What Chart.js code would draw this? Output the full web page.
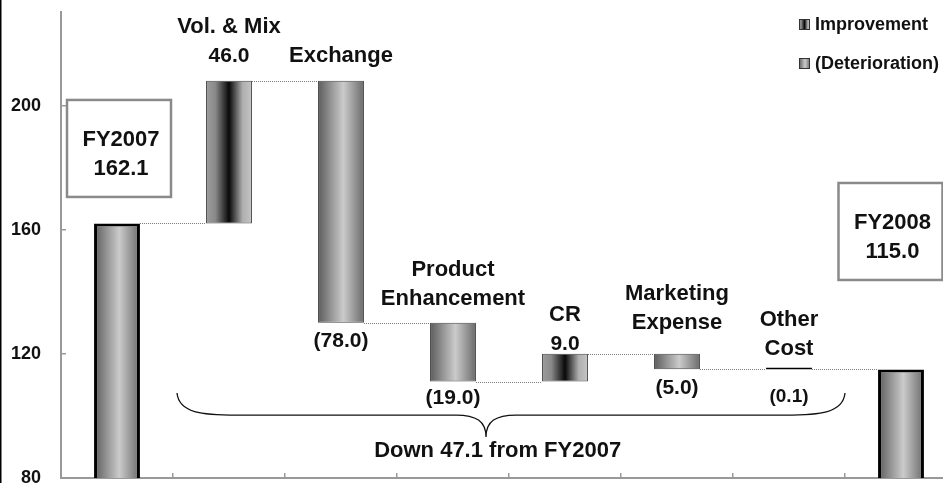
<!DOCTYPE html>
<html>
<head>
<meta charset="utf-8">
<script src="https://cdn.jsdelivr.net/npm/chart.js@4"></script>
<style>
  html, body { margin: 0; padding: 0; background: #fff; overflow: hidden; }
  #wrap { position: absolute; left: 0; top: 0; width: 960px; height: 500px; }
</style>
</head>
<body>
<div id="wrap"><canvas id="bridge"></canvas></div>
<script>
const categories = [
	["FY2007"],
	["Vol. & Mix"],
	["Exchange"],
	["Product", "Enhancement"],
	["CR"],
	["Marketing", "Expense"],
	["Other", "Cost"],
	["FY2008"]
];
const startValue = 162.1;
const changes = [46.0, -78.0, -19.0, 9.0, -5.0, -0.1];
const endValue = 115.0;
const yTicks = [80, 120, 160, 200];
const braceNote = "Down 47.1 from FY2007";
const legendItems = ["Improvement", "(Deterioration)"];

// running level after each bar, then floating ranges for the change bars
const levels = [startValue];
changes.forEach(c => levels.push(+(levels[levels.length - 1] + c).toFixed(1)));
const deltas = [startValue].concat(changes, [endValue]);
const bars = [startValue]
	.concat(changes.map((c, i) => [levels[i], levels[i + 1]]))
	.concat([endValue]);

const FONT = '"Liberation Sans", Arial, sans-serif';
const BAR = 0.41;
const last = deltas.length - 1;

const kindOf = i => (i === 0 || i === last ? "total" : deltas[i] > 0 ? "up" : "down");

function gradient(c, x0, x1, kind) {
	const g = c.createLinearGradient(x0, 0, x1, 0);
	if (kind === "up") {
		g.addColorStop(0, "#9c9c9c");
		g.addColorStop(0.2, "#8a8a8a");
		g.addColorStop(0.5, "#080808");
		g.addColorStop(0.8, "#b0b0b0");
		g.addColorStop(1, "#c4c4c4");
	} else {
		g.addColorStop(0, "#5c5c5c");
		g.addColorStop(0.55, "#cbcbcb");
		g.addColorStop(1, "#6a6a6a");
	}
	return g;
}

function barFill(ctx) {
	const chart = ctx.chart;
	const x = chart.scales.x;
	if (ctx.type !== "data" || !chart.chartArea || !x) return "#aaa";
	const i = ctx.dataIndex;
	if (Math.abs(deltas[i]) < 1) return "#000";
	const cx = x.getPixelForValue(i);
	const hw = (x.width / categories.length) * BAR / 2;
	return gradient(chart.ctx, cx - hw, cx + hw, kindOf(i));
}

const annotate = {
	id: "annotate",
	afterDatasetsDraw(chart, args, opts) {
		const { ctx, scales: { y } } = chart;
		const els = chart.getDatasetMeta(0).data;
		ctx.save();

		// dotted connectors
		ctx.strokeStyle = "#7a7a7a";
		ctx.lineWidth = 1;
		ctx.setLineDash([1, 1]);
		for (let k = 0; k < levels.length; k++) {
			const a = els[k], b = els[k + 1];
			const yy = Math.round(y.getPixelForValue(levels[k])) + 0.5;
			ctx.beginPath();
			ctx.moveTo(a.x + a.width / 2, yy);
			ctx.lineTo(b.x - b.width / 2, yy);
			ctx.stroke();
		}
		ctx.setLineDash([]);

		ctx.fillStyle = "#111";
		ctx.textAlign = "center";
		ctx.textBaseline = "alphabetic";

		// category + value labels for the change bars
		for (let i = 1; i < last; i++) {
			const el = els[i];
			const top = Math.min(el.y, el.base);
			const bottom = Math.max(el.y, el.base);
			const d = deltas[i];
			const val = d > 0 ? d.toFixed(1) : "(" + Math.abs(d).toFixed(1) + ")";
			const above = categories[i].map(t => [t, opts.catFont]);
			if (d > 0) above.push([val, opts.valFont]);
			let base = top - opts.topGap[i];
			for (let j = above.length - 1; j >= 0; j--) {
				ctx.font = above[j][1];
				ctx.fillText(above[j][0], el.x, base);
				base -= opts.lineHeight;
			}
			if (d < 0) {
				ctx.font = Math.abs(d) < 1 ? opts.smallFont : opts.valFont;
				ctx.fillText(val, el.x, bottom + opts.bottomGap[i]);
			}
		}

		// boxed totals
		[0, last].forEach((i, k) => {
			const el = els[i];
			const top = Math.min(el.y, el.base);
			const bw = opts.box.w, bh = opts.box.h;
			const cx = el.x + opts.box.dx[k];
			const by = top - opts.box.gap[k] - bh;
			ctx.strokeStyle = "#8a8a8a";
			ctx.lineWidth = 2.5;
			ctx.strokeRect(cx - bw / 2, by, bw, bh);
			ctx.font = opts.catFont;
			ctx.fillText(categories[i][0], cx + 2, by + 46);
			ctx.fillText(deltas[i].toFixed(1), cx + 2, by + 75);
		});

		// brace under the change bars
		const L = (els[0].x + els[1].x) / 2 + 4;
		const R = (els[last - 1].x + els[last].x) / 2;
		const C = L + (R - L) * opts.brace.tip;
		const yTop = y.getPixelForValue(opts.brace.top);
		const yMid = y.getPixelForValue(opts.brace.mid);
		const yTip = y.getPixelForValue(opts.brace.point);
		ctx.strokeStyle = "#111";
		ctx.lineWidth = 1.3;
		ctx.beginPath();
		ctx.moveTo(L, yTop);
		ctx.bezierCurveTo(L + 2, yMid - 2, L + 25, yMid, L + 60, yMid);
		ctx.lineTo(C - 30, yMid);
		ctx.bezierCurveTo(C - 10, yMid, C, yMid + 6, C, yTip);
		ctx.bezierCurveTo(C, yMid + 6, C + 10, yMid, C + 30, yMid);
		ctx.lineTo(R - 60, yMid);
		ctx.bezierCurveTo(R - 25, yMid, R - 2, yMid - 2, R, yTop);
		ctx.stroke();
		ctx.font = opts.catFont;
		ctx.fillText(braceNote, L + (R - L) * 0.48, yTip + 20);

		// legend, top right
		const lx = chart.chartArea.right - 158;
		[["up", 7], ["down", 46]].forEach(([kind, dy], k) => {
			const ly = chart.chartArea.top + dy;
			ctx.fillStyle = gradient(ctx, lx, lx + 11, kind);
			ctx.fillRect(lx, ly, 11, 11);
			ctx.strokeStyle = "#333";
			ctx.lineWidth = 1;
			ctx.strokeRect(lx + 0.5, ly + 0.5, 10, 10);
			ctx.fillStyle = "#111";
			ctx.font = opts.legendFont;
			ctx.textAlign = "left";
			ctx.textBaseline = "middle";
			ctx.fillText(legendItems[k], lx + 16, ly + 6);
			ctx.textAlign = "center";
			ctx.textBaseline = "alphabetic";
		});

		// left frame line
		ctx.fillStyle = "#000";
		ctx.fillRect(0, 0, 1.5, chart.height);
		ctx.restore();
	}
};

const config = {
	type: "bar",
	data: {
		labels: categories,
		datasets: [
			{
				data: bars,
				backgroundColor: barFill,
				borderColor: ctx => (kindOf(ctx.dataIndex) === "total" || Math.abs(deltas[ctx.dataIndex]) < 1 ? "#000" : "#444"),
				borderWidth: ctx => (kindOf(ctx.dataIndex) === "total" ? 3 : 1),
				borderSkipped: false,
				minBarLength: 2,
				categoryPercentage: 1,
				barPercentage: BAR
			}
		]
	},
	options: {
		responsive: true,
		maintainAspectRatio: false,
		animation: false,
		layout: { autoPadding: false, padding: { top: 12, right: 3, left: 0, bottom: 0 } },
		scales: {
			x: {
				afterFit: s => {
					s.height = 22;
					s.paddingLeft = 0;
					s.paddingRight = 0;
				},
				ticks: { display: false },
				grid: { drawOnChartArea: false, tickLength: -5, color: "#999", lineWidth: 1.5 },
				border: { color: "#999", width: 2 }
			},
			y: {
				min: 80,
				max: 230.3,
				afterFit: s => {
					s.width = 61;
					s.paddingTop = 0;
					s.paddingBottom = 0;
				},
				afterBuildTicks: axis => (axis.ticks = yTicks.map(value => ({ value }))),
				ticks: {
					padding: 25,
					color: "#111",
					font: { family: FONT, size: 18, weight: "bold" }
				},
				grid: { drawOnChartArea: false, tickLength: -5, color: "#999", lineWidth: 1.5 },
				border: { color: "#999", width: 2 }
			}
		},
		plugins: {
			legend: { display: false },
			tooltip: { enabled: false },
			annotate: {
				catFont: "bold 22px " + FONT,
				valFont: "bold 21px " + FONT,
				smallFont: "bold 19px " + FONT,
				legendFont: "bold 18px " + FONT,
				lineHeight: 29,
				topGap: [0, 19, 19, 18, 4, 25, 12, 0],
				bottomGap: [0, 0, 24, 22, 0, 25, 33, 0],
				box: { w: 104, h: 97, dx: [2, -10.5], gap: [26.5, 89.5] },
				brace: { tip: 0.4626, top: 107.4, mid: 100.3, point: 93.2 }
			}
		}
	},
	plugins: [annotate]
};

new Chart(document.getElementById("bridge"), config);
</script>
</body>
</html>
